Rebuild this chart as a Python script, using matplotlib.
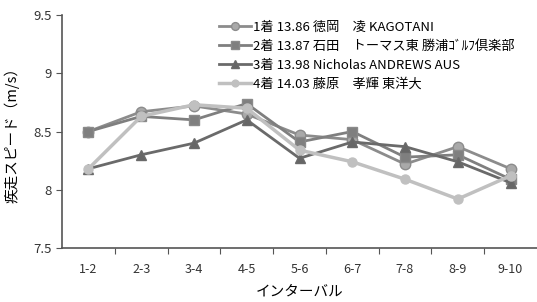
import matplotlib
matplotlib.use('Agg')
import matplotlib.pyplot as plt

plt.rcParams['font.family'] = ['Noto Sans CJK JP', 'DejaVu Sans']

# データ
intervals = ['1-2', '2-3', '3-4', '4-5', '5-6', '6-7', '7-8', '8-9', '9-10']
labels = ['1着 13.86 徳岡　凌 KAGOTANI',
          '2着 13.87 石田　トーマス東 勝浦ｺﾞﾙﾌ倶楽部',
          '3着 13.98 Nicholas ANDREWS AUS',
          '4着 14.03 藤原　孝輝 東洋大']
speed1 = [8.50, 8.67, 8.72, 8.65, 8.47, 8.43, 8.22, 8.37, 8.18]
speed2 = [8.50, 8.63, 8.60, 8.74, 8.41, 8.50, 8.28, 8.30, 8.09]
speed3 = [8.18, 8.30, 8.40, 8.60, 8.27, 8.41, 8.37, 8.24, 8.06]
speed4 = [8.18, 8.63, 8.73, 8.70, 8.34, 8.24, 8.09, 7.92, 8.12]

fig = plt.figure(figsize=(5.37, 3.02), dpi=100)
ax = fig.add_axes([0.1155, 0.179, 0.8845, 0.771])

x = range(len(intervals))
ax.plot(x, speed1, color='#8c8c8c', lw=2, marker='o', ms=7.5,
        mfc='#a9a9a9', mec='#8c8c8c', label=labels[0], zorder=3)
ax.plot(x, speed2, color='#7f7f7f', lw=2, marker='s', ms=7.5,
        mfc='#7f7f7f', mec='#8a8a8a', label=labels[1], zorder=3)
ax.plot(x, speed3, color='#6a6a6a', lw=2, marker='^', ms=7.5,
        mfc='#666666', mec='#6a6a6a', label=labels[2], zorder=3)
ax.plot(x, speed4, color='#c0c0c0', lw=2.5, marker='o', ms=6.5,
        mfc='#c0c0c0', mec='#c0c0c0', label=labels[3], zorder=4)

ax.set_xlim(-0.5, len(intervals) - 0.5)
ax.set_ylim(7.5, 9.5)
ax.set_yticks([7.5, 8, 8.5, 9, 9.5])
ax.set_yticklabels(['7.5', '8', '8.5', '9', '9.5'])
ax.set_xticks([i + 0.5 for i in range(len(intervals) - 1)])
ax.set_xticklabels([])
ax.set_xticks(list(x), minor=True)
ax.set_xticklabels(intervals, minor=True)
ax.tick_params(axis='x', which='minor', length=0, pad=11, labelsize=9, colors='#333333')
ax.tick_params(axis='x', which='major', length=4, color='#555555', direction='out')
ax.tick_params(axis='y', length=4, color='#555555', labelsize=9.5, labelcolor='#333333')

for s in ['top', 'right']:
    ax.spines[s].set_visible(False)
for s in ['left', 'bottom']:
    ax.spines[s].set_color('#555555')
    ax.spines[s].set_linewidth(1.2)

ax.set_xlabel('インターバル', fontsize=10.5, labelpad=6)
ax.set_ylabel('疾走スピード（m/s）', fontsize=10.5, labelpad=10)

ax.legend(loc='upper left', bbox_to_anchor=(0.31, 1.015), frameon=False,
          fontsize=9.5, handlelength=2.5, handletextpad=0.1, labelspacing=0.45,
          borderpad=0.2, markerscale=0.75)

fig.savefig('out.png', dpi=100)
